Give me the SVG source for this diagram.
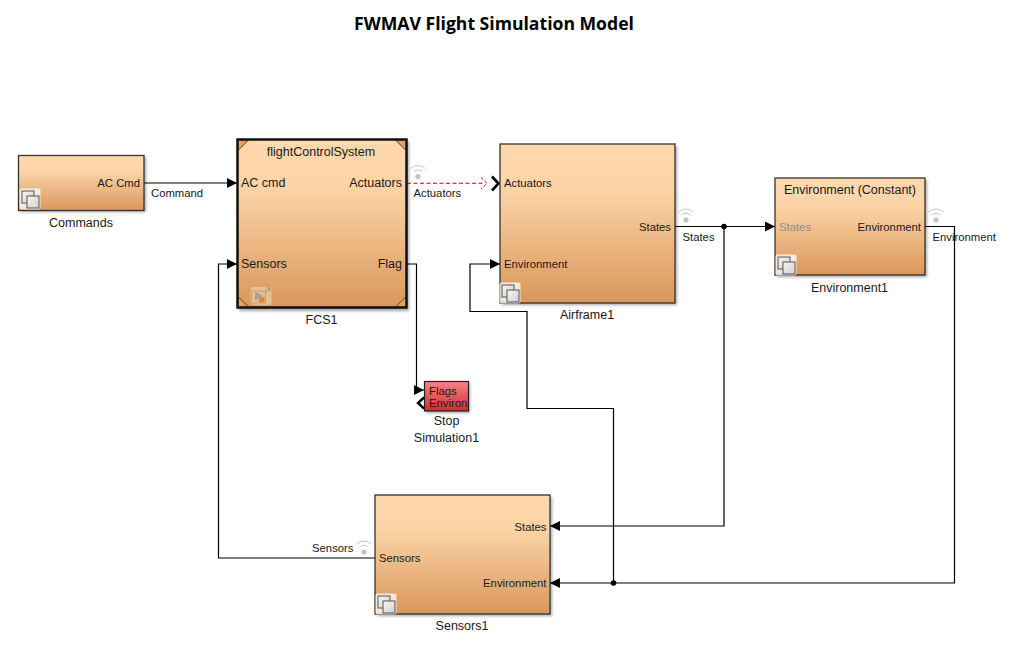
<svg xmlns="http://www.w3.org/2000/svg" xmlns:xlink="http://www.w3.org/1999/xlink" width="1011" height="647" viewBox="0 0 1011 647">
<style>
text{font-family:"Liberation Sans",Arial,sans-serif;font-size:11.300px;fill:#1a1a1a}
.l{font-size:12.500px}
.title{font-family:"Open Sans","Noto Sans",sans-serif;font-size:17.600px;font-weight:700;fill:#000}
.m{text-anchor:middle}.e{text-anchor:end}
.b{fill:url(#or);stroke:#333;stroke-width:1.3}
.w{fill:none;stroke:#000;stroke-width:1.2}
.sh{fill:#000;opacity:.35;filter:url(#bl)}
.wf{fill:none;stroke:#c8c8c8;stroke-width:1}
</style>
<defs>
<linearGradient id="or" x1="0" y1="0" x2="0" y2="1"><stop offset="0" stop-color="#fed8ae"/><stop offset=".3" stop-color="#fbd3a6"/><stop offset="1" stop-color="#d9975a"/></linearGradient>
<linearGradient id="rd" x1="0" y1="0" x2="0" y2="1"><stop offset="0" stop-color="#f5858a"/><stop offset="1" stop-color="#d42a30"/></linearGradient>
<linearGradient id="gr" x1="0" y1="0" x2="1" y2="1"><stop offset="0" stop-color="#f6f6f6"/><stop offset="1" stop-color="#cfcfcf"/></linearGradient>
<filter id="bl" x="-10%" y="-10%" width="120%" height="120%"><feGaussianBlur stdDeviation="1.5"/></filter>
<marker id="a" viewBox="0 0 10 10" refX="10" refY="5" markerWidth="10" markerHeight="10" markerUnits="userSpaceOnUse" orient="auto"><path d="M0 0L10 5L0 10Z" fill="#000"/></marker>
<g id="sub"><rect x="-1.500" y="-1.500" width="21" height="21" rx="2" fill="#fff" opacity=".75"/><rect x="1" y="1" width="12" height="12" fill="url(#gr)" stroke="#555" stroke-width="1"/><rect x="6" y="6" width="12" height="12" fill="url(#gr)" stroke="#555" stroke-width="1"/></g>
<g id="wifi"><circle cx="0" cy="0" r="2.600" fill="#c4c4c4"/><path class="wf" d="M-4.500-5A7 7 0 0 1 4.500-5"/><path class="wf" d="M-7.500-8A11 11 0 0 1 7.500-8"/></g>
</defs>
<text class="title m" x="494" y="30">FWMAV Flight Simulation Model</text>

<g id="connectors">
<path class="w" d="M144 183H237" marker-end="url(#a)"/>
<path d="M407 183.300H484" fill="none" stroke="#d80000" stroke-width="1.100" stroke-dasharray="4 2.500"/>
<path d="M481 177.500L487 183.300L481 189" fill="none" stroke="#e00000" stroke-width="1" stroke-dasharray="3 2"/>
<path d="M492 176.500L498.500 183.500L492 190.500" fill="none" stroke="#000" stroke-width="2.600"/>
<path class="w" d="M407 264H416.500V390H424" marker-end="url(#a)"/>
<path d="M424 397.500L418 403L424 408.500" fill="none" stroke="#000" stroke-width="2.400"/>
<path class="w" d="M675 226.500H775" marker-end="url(#a)"/>
<path class="w" d="M724 226.500V526H550" marker-end="url(#a)"/>
<circle cx="724" cy="226.500" r="2.800"/>
<path class="w" d="M925 226.500H954.500V583H550" marker-end="url(#a)"/>
<path class="w" d="M613.500 583V408.500H527V311.500H470V264H500" marker-end="url(#a)"/>
<circle cx="613.500" cy="583" r="2.800"/>
<path class="w" d="M375 558H218.500V264H237" marker-end="url(#a)"/>
<text x="151" y="197">Command</text>
<text x="413.500" y="197">Actuators</text>
<text x="682.500" y="241">States</text>
<text x="932.500" y="241">Environment</text>
<text class="e" x="353.500" y="552">Sensors</text>
<use xlink:href="#wifi" href="#wifi" x="418" y="176.500"/>
<use xlink:href="#wifi" href="#wifi" x="686" y="220"/>
<use xlink:href="#wifi" href="#wifi" x="936" y="220"/>
<use xlink:href="#wifi" href="#wifi" x="364" y="552"/>
</g>

<g id="Commands">
<rect class="sh" x="20" y="157" width="126" height="55"/>
<rect class="b" x="18.500" y="155.500" width="125.500" height="55"/>
<text class="e" x="140" y="187">AC Cmd</text>
<use xlink:href="#sub" href="#sub" x="21" y="190"/>
<text class="m l" x="81" y="226.500">Commands</text>
</g>

<g id="FCS1">
<rect class="sh" x="239" y="141" width="170" height="170"/>
<rect x="237.500" y="139.500" width="169" height="168" fill="url(#or)" stroke="#111" stroke-width="2.500"/>
<path d="M238.500 140.500H248L238.500 150Z M405.500 140.500H396L405.500 150Z M238.500 306.500H248L238.500 297Z M405.500 306.500H396L405.500 297Z" fill="#f0a050" stroke="#222" stroke-width=".8"/>
<text class="m l" x="321" y="156">flightControlSystem</text>
<text class="l" x="241" y="187">AC cmd</text>
<text class="e l" x="402" y="187">Actuators</text>
<text class="l" x="241" y="268">Sensors</text>
<text class="e l" x="402" y="268">Flag</text>
<g id="fcsIcon" opacity=".8"><rect x="250.500" y="287" width="21" height="18" rx="2" fill="#eec69a"/><rect x="251.500" y="291" width="14" height="12" fill="none" stroke="#b9a58f"/><path d="M255 291.500L263 296L255 300.500Z" fill="#9aa3a8"/><rect x="259" y="297" width="5.500" height="5.500" fill="#e08030"/><path d="M265 293L270 288M266.500 288H270V291.500" fill="none" stroke="#8a8a8a"/></g>
<text class="m l" x="321.500" y="323.500">FCS1</text>
</g>

<g id="Airframe1">
<rect class="sh" x="502" y="146" width="175" height="159"/>
<rect class="b" x="500" y="144" width="175" height="159"/>
<text x="504" y="187">Actuators</text>
<text class="e" x="671" y="231">States</text>
<text x="504" y="268">Environment</text>
<use xlink:href="#sub" href="#sub" x="501" y="284"/>
<text class="m l" x="587" y="319">Airframe1</text>
</g>

<g id="Environment1">
<rect class="sh" x="777" y="180" width="150" height="97"/>
<rect class="b" x="775" y="178" width="150" height="97"/>
<text class="m l" x="850" y="194">Environment (Constant)</text>
<text x="779" y="231" style="fill:#8e8e8e">States</text>
<text class="e" x="921" y="231">Environment</text>
<use xlink:href="#sub" href="#sub" x="777" y="256"/>
<text class="m l" x="849.500" y="292">Environment1</text>
</g>

<g id="StopSimulation1">
<rect class="sh" x="426" y="383" width="44" height="30"/>
<rect x="424.500" y="381.500" width="44" height="29.500" fill="url(#rd)" stroke="#222" stroke-width="1.200"/>
<text x="429" y="394.500">Flags</text>
<svg x="424" y="395" width="44" height="15" viewBox="0 0 44 15"><text x="5" y="11.500">Environment</text></svg>
<text class="m l" x="446.500" y="425">Stop</text>
<text class="m l" x="446.500" y="442">Simulation1</text>
</g>

<g id="Sensors1">
<rect class="sh" x="377" y="497" width="175" height="119"/>
<rect class="b" x="375" y="495" width="175" height="119"/>
<text class="e" x="546.500" y="531">States</text>
<text x="379" y="562">Sensors</text>
<text class="e" x="546.500" y="587">Environment</text>
<use xlink:href="#sub" href="#sub" x="377" y="595"/>
<text class="m l" x="462" y="630">Sensors1</text>
</g>
</svg>
